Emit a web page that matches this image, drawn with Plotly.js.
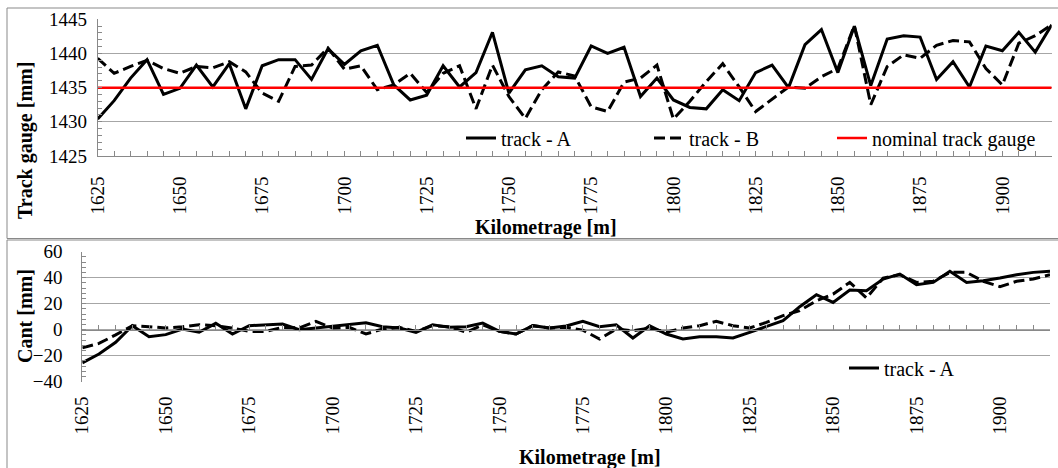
<!DOCTYPE html>
<html>
<head>
<meta charset="utf-8">
<script src="https://cdn.plot.ly/plotly-3.0.1.min.js"></script>
<style>html,body{margin:0;padding:0;background:#fff;}#chart{width:1058px;height:468px;}</style>
</head>
<body>
<div id="chart"></div>
<script>
// ---- data ----
const kilometrage = [1625,1630,1635,1640,1645,1650,1655,1660,1665,1670,1675,1680,1685,1690,1695,1700,1705,1710,1715,1720,1725,1730,1735,1740,1745,1750,1755,1760,1765,1770,1775,1780,1785,1790,1795,1800,1805,1810,1815,1820,1825,1830,1835,1840,1845,1850,1855,1860,1865,1870,1875,1880,1885,1890,1895,1900,1905,1910,1915];

const gaugeTrackA = [1430.4,1433.1,1436.4,1439.1,1434.0,1434.9,1438.3,1435.1,1438.5,1431.9,1438.2,1439.1,1439.1,1436.2,1440.7,1438.4,1440.4,1441.2,1435.4,1433.2,1433.9,1438.2,1435.1,1437.2,1443.1,1434.2,1437.6,1438.2,1436.6,1436.4,1441.1,1440.0,1440.9,1433.7,1436.4,1433.2,1432.1,1431.9,1434.7,1433.1,1437.2,1438.3,1435.0,1441.3,1443.5,1437.2,1444.0,1435.3,1442.1,1442.6,1442.4,1436.2,1438.8,1435.1,1441.1,1440.4,1443.1,1440.2,1444.2];

const gaugeTrackB = [1439.3,1437.1,1438.1,1439.0,1437.8,1437.1,1438.1,1437.9,1438.8,1437.3,1434.2,1433.0,1438.1,1438.3,1440.8,1437.7,1438.2,1434.7,1435.4,1437.1,1434.3,1437.1,1438.2,1431.9,1438.3,1433.7,1430.5,1434.7,1437.3,1436.7,1432.2,1431.5,1435.8,1436.4,1438.3,1430.4,1433.0,1435.9,1438.5,1435.1,1431.5,1433.3,1435.1,1434.9,1436.6,1437.8,1444.1,1432.5,1438.1,1439.8,1439.3,1441.2,1441.9,1441.7,1437.8,1435.4,1441.5,1442.6,1444.2];

const nominalKm = [1625, 1915];
const nominalGauge = [1435, 1435];

const cantTrackA = [-25.5,-18.7,-9.7,3.1,-5.4,-3.8,0.5,-2.0,4.9,-3.3,3.1,3.8,4.4,0.0,1.3,2.3,3.8,5.4,2.3,1.3,-2.0,3.8,1.8,2.3,5.1,-1.3,-3.3,3.1,1.3,2.8,6.4,2.3,3.8,-6.4,3.1,-3.3,-7.2,-5.4,-5.4,-6.4,-2.0,2.3,6.9,17.7,26.9,21.0,30.5,30.0,39.0,42.8,34.6,36.4,44.9,36.4,37.7,39.7,42.3,44.1,44.9];

const cantTrackB = [-14.0,-10.5,-4.0,3.0,2.3,1.3,2.3,3.8,3.1,1.3,-1.3,-1.3,1.8,1.3,6.4,1.3,1.8,-3.3,0.5,1.8,-1.3,3.1,2.3,-2.0,3.8,-1.3,-3.3,3.1,1.3,1.8,-0.3,-7.2,0.5,-0.8,1.3,-2.0,1.3,3.1,6.4,3.1,1.3,5.6,10.8,14.6,22.3,27.4,36.4,24.4,39.7,42.3,36.4,37.2,44.1,44.1,37.2,33.1,37.2,39.0,42.3];

const seriesNames = ['track - A', 'track - B', 'nominal track gauge'];
const titles = {gauge: 'Track gauge [mm]', cant: 'Cant [mm]', km: 'Kilometrage [m]'};

// ---- layout helpers ----
const W = 1058, H = 468;
const fx = p => p / W;
const fy = p => 1 - p / H;
const GRAY = '#898989';
const GRID = '#a6a6a6';
const FONT = 'Liberation Serif, Times New Roman, serif';

const cantYRange = [-40, 60];
const bottomDomain = [fy(381.7), fy(251.7)];
const zeroPos = bottomDomain[0] + (0 - cantYRange[0]) / (cantYRange[1] - cantYRange[0]) * (bottomDomain[1] - bottomDomain[0]);

const traces = [
  {x: kilometrage, y: gaugeTrackA, name: seriesNames[0], type: 'scatter', mode: 'lines',
   line: {color: '#000', width: 3}, xaxis: 'x', yaxis: 'y', legend: 'legend'},
  {x: kilometrage, y: gaugeTrackB, name: seriesNames[1], type: 'scatter', mode: 'lines',
   line: {color: '#000', width: 3, dash: '11px,5px'}, xaxis: 'x', yaxis: 'y', legend: 'legend3'},
  {x: nominalKm, y: nominalGauge, name: seriesNames[2], type: 'scatter', mode: 'lines',
   line: {color: '#ff0000', width: 2.5}, xaxis: 'x', yaxis: 'y', legend: 'legend4'},
  {x: kilometrage, y: cantTrackA, name: seriesNames[0], type: 'scatter', mode: 'lines',
   line: {color: '#000', width: 3}, xaxis: 'x2', yaxis: 'y2', legend: 'legend2'},
  {x: kilometrage, y: cantTrackB, name: seriesNames[1], type: 'scatter', mode: 'lines',
   line: {color: '#000', width: 3, dash: '11px,5px'}, xaxis: 'x3', yaxis: 'y2', showlegend: false}
];

const xCommon = {
  range: [1625, 1915], tick0: 1625, dtick: 25, tickangle: -90,
  showgrid: false, zeroline: false, fixedrange: true,
  tickfont: {family: FONT, size: 19, color: '#000'}
};

const legendBase = (xp, yp) => ({
  orientation: 'h', x: fx(xp), y: fy(yp), xanchor: 'left', yanchor: 'middle',
  bgcolor: 'rgba(0,0,0,0)', font: {family: FONT, size: 20, color: '#000'}
});

const layout = {
  width: W, height: H,
  margin: {l: 0, r: 0, t: 0, b: 0},
  paper_bgcolor: '#fff', plot_bgcolor: '#fff',
  font: {family: FONT, size: 19, color: '#000'},
  xaxis: Object.assign({}, xCommon, {
    domain: [fx(97.7), fx(1051.7)], anchor: 'y',
    showline: true, linecolor: GRAY, linewidth: 1,
    ticks: 'inside', ticklen: 5, tickcolor: GRAY, ticklabelstandoff: 12,
    minor: {dtick: 5, tick0: 1625, ticks: 'inside', ticklen: 5, tickcolor: GRAY, showgrid: false}
  }),
  yaxis: {
    domain: [fy(156), fy(19.3)], anchor: 'x', range: [1425, 1445], tick0: 1425, dtick: 5,
    showline: true, linecolor: GRAY, linewidth: 1,
    ticks: 'inside', ticklen: 4, tickcolor: GRAY,
    showgrid: true, gridcolor: GRID, gridwidth: 1, zeroline: false, fixedrange: true,
    ticklabelstandoff: 6,
    tickfont: {family: FONT, size: 19, color: '#000'},
    minor: {dtick: 1, ticks: 'inside', ticklen: 4, tickcolor: GRAY, showgrid: false}
  },
  xaxis2: Object.assign({}, xCommon, {
    domain: [fx(82.3), fx(1050)], anchor: 'y2',
    showline: false, ticks: '', ticklabelstandoff: 10
  }),
  xaxis3: Object.assign({}, xCommon, {
    domain: [fx(82.3), fx(1050)], overlaying: 'x2', anchor: 'free', position: zeroPos,
    showline: true, linecolor: GRAY, linewidth: 1, showticklabels: false,
    ticks: 'inside', ticklen: 5, tickcolor: GRAY,
    minor: {dtick: 5, tick0: 1625, ticks: 'inside', ticklen: 5, tickcolor: GRAY, showgrid: false}
  }),
  yaxis2: {
    domain: bottomDomain, anchor: 'x2', range: cantYRange, tick0: -40, dtick: 20,
    showline: true, linecolor: GRAY, linewidth: 1,
    ticks: 'inside', ticklen: 4, tickcolor: GRAY,
    showgrid: true, gridcolor: GRID, gridwidth: 1, zeroline: false, fixedrange: true,
    ticklabelstandoff: 15,
    tickfont: {family: FONT, size: 19, color: '#000'},
    minor: {dtick: 4, tick0: -40, ticks: 'inside', ticklen: 4, tickcolor: GRAY, showgrid: false}
  },
  legend: legendBase(461, 138),
  legend3: legendBase(649, 138),
  legend4: legendBase(832, 138),
  legend2: legendBase(844, 368),
  annotations: [
    {text: titles.gauge, xref: 'paper', yref: 'paper', x: fx(25), y: fy(141), textangle: -90,
     showarrow: false, xanchor: 'center', yanchor: 'middle', font: {family: FONT, size: 20, weight: 'bold', color: '#000'}},
    {text: titles.km, xref: 'paper', yref: 'paper', x: fx(546), y: fy(227),
     showarrow: false, xanchor: 'center', yanchor: 'middle', font: {family: FONT, size: 20, weight: 'bold', color: '#000'}},
    {text: titles.cant, xref: 'paper', yref: 'paper', x: fx(25), y: fy(316), textangle: -90,
     showarrow: false, xanchor: 'center', yanchor: 'middle', font: {family: FONT, size: 20, weight: 'bold', color: '#000'}},
    {text: titles.km, xref: 'paper', yref: 'paper', x: fx(590), y: fy(457),
     showarrow: false, xanchor: 'center', yanchor: 'middle', font: {family: FONT, size: 20, weight: 'bold', color: '#000'}}
  ],
  shapes: [
    {type: 'rect', xref: 'paper', yref: 'paper', x0: fx(7), x1: 1.01, y0: fy(238.5), y1: fy(8),
     line: {color: GRAY, width: 1}, fillcolor: 'rgba(0,0,0,0)'},
    {type: 'rect', xref: 'paper', yref: 'paper', x0: fx(7), x1: 1.01, y0: -0.05, y1: fy(240),
     line: {color: GRAY, width: 1}, fillcolor: 'rgba(0,0,0,0)'}
  ]
};

Plotly.newPlot('chart', traces, layout, {staticPlot: true, displayModeBar: false});
</script>
</body>
</html>
